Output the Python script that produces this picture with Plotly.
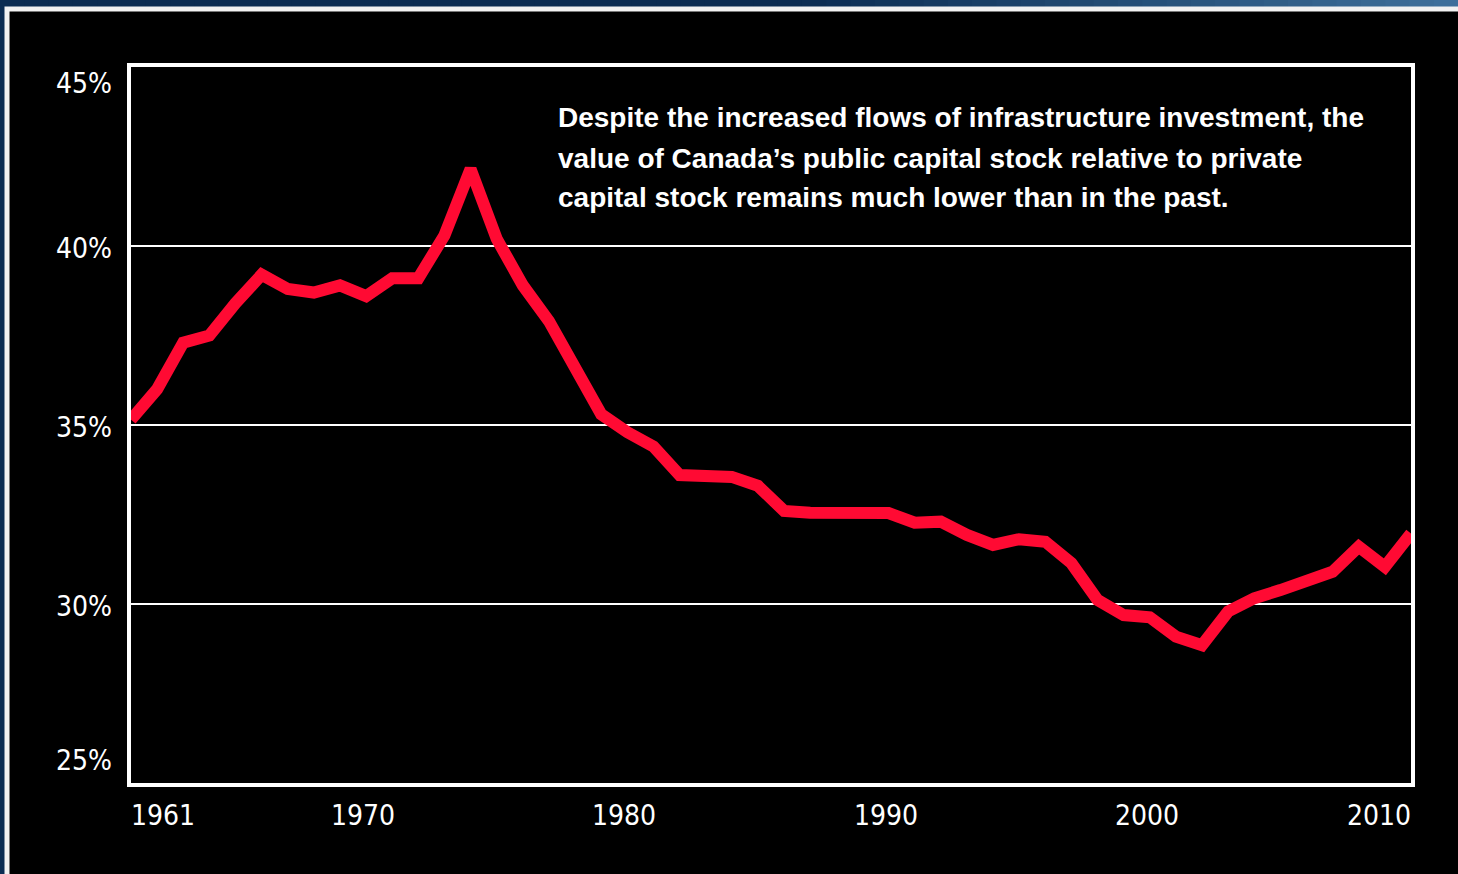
import plotly.graph_objects as go

# Public capital stock as a share of private capital stock, Canada (%)
years = list(range(1961, 2011))
ratio = [
    35.15, 36.0, 37.3, 37.5, 38.4, 39.2, 38.8, 38.7, 38.9, 38.6,
    39.1, 39.1, 40.3, 42.15, 40.2, 38.9, 37.9, 36.6, 35.3, 34.8,
    34.4, 33.6, 33.6, 33.55, 33.3, 32.6, 32.55, 32.57, 32.58, 32.54,
    32.27, 32.3, 31.93, 31.65, 31.81, 31.74, 31.14, 30.11, 29.69, 29.63,
    29.09, 28.85, 29.79, 30.16, 30.39, 30.62, 30.9, 31.6, 31.04, 31.97,
]

y_ticks = [25, 30, 35, 40, 45]
y_tick_labels = ["25%", "30%", "35%", "40%", "45%"]
x_ticks = [1961, 1970, 1980, 1990, 2000, 2010]
x_tick_labels = ["1961", "1970", "1980", "1990", "2000", "2010"]

note_lines = [
    "Despite the increased flows of infrastructure investment, the",
    "value of Canada\u2019s public capital stock relative to private",
    "capital stock remains much lower than in the past.",
]

W, H = 1458, 874
L, R, T, B = 131, 47, 67, 91
PW, PH = W - L - R, H - T - B


def px_x(p):
    return (p - L) / PW


def px_y(p):
    return 1 - (p - T) / PH


TICK_FONT = dict(family="DejaVu Sans Condensed, Liberation Sans Narrow, Arial Narrow, sans-serif",
                 size=28, color="white")
NOTE_FONT = dict(family="Liberation Sans, Arial, Helvetica, sans-serif", size=28, color="white")

fig = go.Figure()
fig.add_trace(go.Scatter(
    x=years, y=ratio, mode="lines",
    line=dict(color="#ff0a33", width=12),
    hoverinfo="skip", showlegend=False,
))

shapes = []
# blue header strip, fading lighter toward the right
n_seg = 60
for i in range(n_seg):
    t = i / (n_seg - 1)
    k = max(0.0, (t - 0.55) / 0.45)
    r = int(11 + (62 - 11) * k)
    g = int(44 + (112 - 44) * k)
    b = int(82 + (155 - 82) * k)
    x0 = i * W / n_seg
    x1 = (i + 1) * W / n_seg + 1
    shapes.append(dict(type="rect", xref="paper", yref="paper", layer="below",
                       x0=px_x(x0), x1=px_x(x1), y0=px_y(8), y1=px_y(-2),
                       fillcolor=f"rgb({r},{g},{b})", line=dict(width=0)))
# black panel with light border
shapes.append(dict(type="rect", xref="paper", yref="paper", layer="below",
                   x0=px_x(7), x1=px_x(W + 20), y0=px_y(H + 20), y1=px_y(9),
                   fillcolor="black", line=dict(color="#f2f2f2", width=5)))

annotations = []
for v, lab in zip(y_ticks, y_tick_labels):
    if v == max(y_ticks):
        anchor, shift = "top", 2
    elif v == min(y_ticks):
        anchor, shift = "bottom", 4
    else:
        anchor, shift = "middle", -2
    annotations.append(dict(x=px_x(114), xref="paper", y=v, yref="y", text=lab,
                            xanchor="right", yanchor=anchor, yshift=shift,
                            showarrow=False, font=TICK_FONT))
for v, lab in zip(x_ticks, x_tick_labels):
    if v == min(x_ticks):
        anchor, xs = "left", -2
    elif v == max(x_ticks):
        anchor, xs = "right", 2
    else:
        anchor, xs = "center", -3
    annotations.append(dict(x=v, xref="x", y=0, yref="paper", text=lab,
                            xanchor=anchor, yanchor="top", xshift=xs, yshift=-14,
                            showarrow=False, font=TICK_FONT))
for i, line in enumerate(note_lines):
    annotations.append(dict(x=px_x(556), xref="paper", y=px_y(118 + 40 * i), yref="paper",
                            text="<b>" + line + "</b>", xanchor="left", yanchor="middle",
                            showarrow=False, font=NOTE_FONT))

fig.update_layout(
    width=W, height=H,
    margin=dict(l=L, r=R, t=T, b=B),
    paper_bgcolor="#0b2c52",
    plot_bgcolor="black",
    shapes=shapes,
    annotations=annotations,
    xaxis=dict(range=[1961, 2010], showgrid=False, zeroline=False,
               showticklabels=False, ticks="",
               showline=True, mirror=True, linecolor="white", linewidth=4),
    yaxis=dict(range=[25, 45], tickvals=y_ticks, showticklabels=False, ticks="",
               showgrid=True, gridcolor="white", gridwidth=2, zeroline=False,
               showline=True, mirror=True, linecolor="white", linewidth=4),
)

fig.write_html("out.html")
